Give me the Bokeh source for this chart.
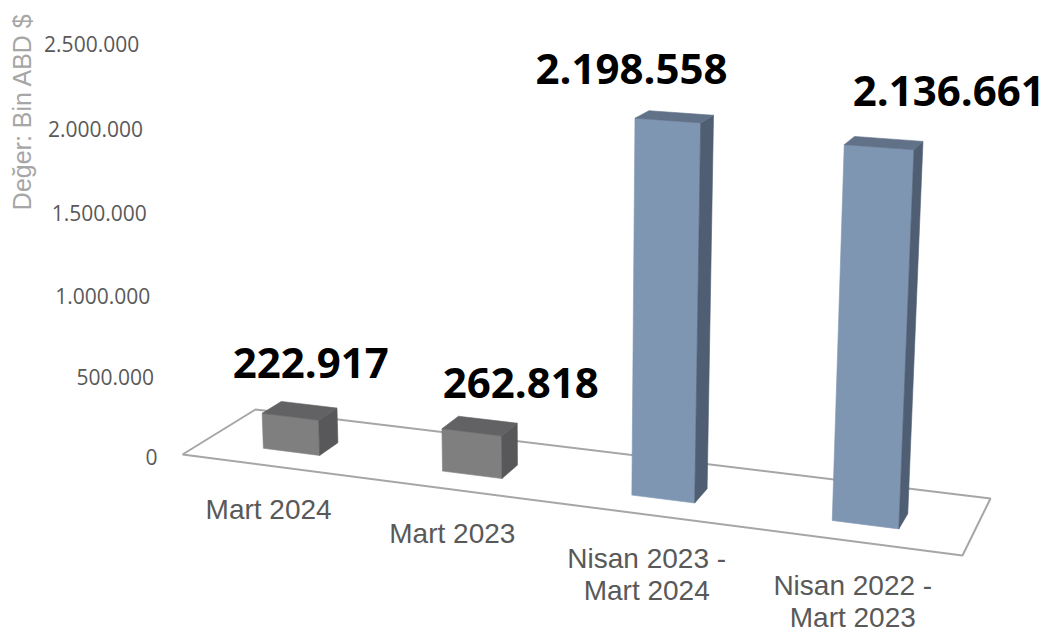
import numpy as np
from bokeh.plotting import figure
from bokeh.models import Range1d
from bokeh.embed import file_html
from bokeh.resources import INLINE
from bokeh.core.properties import value

# ---------------- data ----------------
categories = ["Mart 2024", "Mart 2023", "Nisan 2023 -\nMart 2024", "Nisan 2022 -\nMart 2023"]
values = [222917, 262818, 2198558, 2136661]
y_ticks = [0, 500000, 1000000, 1500000, 2000000, 2500000]
axis_title = "Değer: Bin ABD $"


def tr_fmt(v):
    return f"{v:,}".replace(",", ".")


value_labels = [tr_fmt(v) for v in values]
y_tick_labels = [tr_fmt(t) for t in y_ticks]

# ---------------- style / layout ----------------
FRONT = ["#7f7f80", "#7f7f80", "#7f96b2", "#7f96b2"]
SIDE = ["#58585a", "#58585a", "#4f5e72", "#4f5e72"]
TOP = ["#626264", "#626264", "#607188", "#607188"]
LABEL_DX = [11, 41, -43, 65]
LABEL_DY = [-48, -43, -48, -52]

# perspective camera: floor quad (FL, FR, BR, BL) in page pixels + vertical vanishing point
FLOOR_SCREEN = [(182, 454), (962, 555), (990, 498), (255, 409)]
FLOOR_UV = [(0, 0), (1, 0), (1, 1), (0, 1)]
VP = np.array([561.0, 9000.0, 1.0])
CAL_H, CAL_Y = 2500000, 41
BAR_HALF_W = 0.04
BAR_V0, BAR_V1 = 0.29, 0.56

A, b = [], []
for (u, v), (X, Y) in zip(FLOOR_UV, FLOOR_SCREEN):
    A.append([u, v, 1, 0, 0, 0, -u * X, -v * X]); b.append(X)
    A.append([0, 0, 0, u, v, 1, -u * Y, -v * Y]); b.append(Y)
hv = np.linalg.solve(np.array(A, float), np.array(b, float))
H = np.array([[hv[0], hv[1], hv[2]], [hv[3], hv[4], hv[5]], [hv[6], hv[7], 1.0]])
p0 = H @ np.array([0.0, 0.0, 1.0])
w0 = p0[2]
Y0 = p0[1] / w0
s = w0 * (CAL_Y - Y0) / (CAL_H * (VP[1] - CAL_Y))


def proj(u, v, h):
    q = H @ np.array([u, v, 1.0]) + h * s * VP
    return q[0] / q[2], q[1] / q[2]


def poly(pts):
    xy = [proj(*q) for q in pts]
    return [q[0] for q in xy], [q[1] for q in xy]


W, HGT = 1056, 641
p = figure(width=W, height=HGT, x_range=Range1d(0, W), y_range=Range1d(HGT, 0),
           output_backend="svg", toolbar_location=None, min_border=0)
p.axis.visible = False
p.grid.visible = False
p.outline_line_color = None
p.background_fill_color = "white"

# floor outline
fx, fy = poly([(0, 0, 0), (1, 0, 0), (1, 1, 0), (0, 1, 0), (0, 0, 0)])
p.line(fx, fy, line_color="#a6a6a6", line_width=2)

# bars
xs, ys, cols = [], [], []
n = len(categories)
for i, val in enumerate(values):
    uc = (i + 0.5) / n
    u0, u1 = uc - BAR_HALF_W, uc + BAR_HALF_W
    faces = [
        ([(u0, BAR_V0, 0), (u1, BAR_V0, 0), (u1, BAR_V0, val), (u0, BAR_V0, val)], FRONT[i]),
        ([(u1, BAR_V0, 0), (u1, BAR_V1, 0), (u1, BAR_V1, val), (u1, BAR_V0, val)], SIDE[i]),
        ([(u0, BAR_V0, val), (u1, BAR_V0, val), (u1, BAR_V1, val), (u0, BAR_V1, val)], TOP[i]),
    ]
    for pts, c in faces:
        px, py = poly(pts)
        xs.append(px); ys.append(py); cols.append(c)
p.patches(xs=xs, ys=ys, fill_color=cols, line_color=cols, line_width=0.6)

# value labels
lx, ly = [], []
for i, val in enumerate(values):
    uc = (i + 0.5) / n
    X, Y = proj(uc, (BAR_V0 + BAR_V1) / 2, val)
    lx.append(X + LABEL_DX[i]); ly.append(Y + LABEL_DY[i])
p.text(x=lx, y=ly, text=value_labels, text_font=value("Open Sans"), text_font_style="bold",
       text_font_size="42px", text_color="black", text_align="center", text_baseline="middle")

# category labels
cx, cy = [], []
for i in range(n):
    X, Y = proj((i + 0.5) / n, 0, 0)
    cx.append(X - 2); cy.append(Y + 28)
p.text(x=cx, y=cy, text=categories, text_font=value("Liberation Sans"), text_font_size="28px",
       text_color="#595959", text_align="center", text_baseline="top", text_line_height=1.05)

# value axis tick labels
tx, ty = [], []
for t in y_ticks:
    X, Y = proj(0, 0, t)
    tx.append(X - 25); ty.append(Y + 2)
p.text(x=tx, y=ty, text=y_tick_labels, text_font=value("Open Sans"), text_font_size="21px",
       text_color="#595959", text_align="right", text_baseline="middle")

# axis title
p.text(x=[21], y=[111], text=[axis_title], angle=np.pi / 2, text_font=value("Liberation Sans"),
       text_font_size="25px", text_color="#a6a6a6", text_align="center", text_baseline="middle")

open("out.html", "w").write(file_html(p, INLINE))
